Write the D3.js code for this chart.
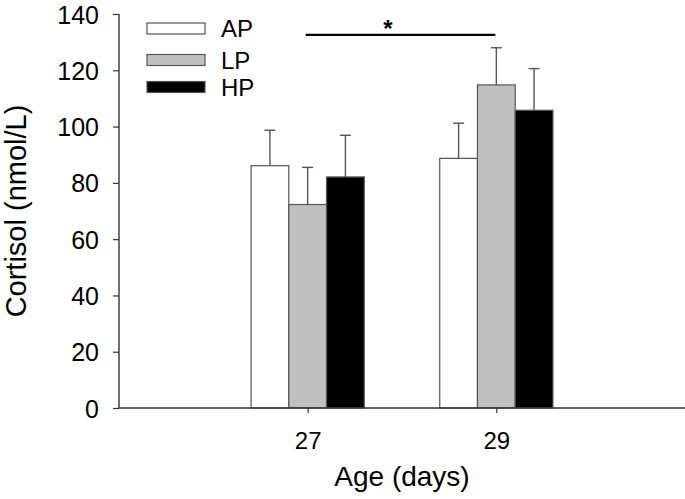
<!DOCTYPE html>
<html>
<head>
<meta charset="utf-8">
<script src="https://cdn.jsdelivr.net/npm/d3@7"></script>
<style>
  body { margin: 0; background: #fff; }
  svg { display: block; font-family: "Liberation Sans", Arial, Helvetica, sans-serif; }
</style>
</head>
<body>
<div id="chart"></div>
<script>
// data
const ages = [27, 29];
const groups = ["AP", "LP", "HP"];
const meanAP = [86.1, 88.7];
const meanLP = [72.3, 114.8];
const meanHP = [82.1, 105.8];
const errAP = [12.6, 12.5];
const errLP = [13.2, 13.2];
const errHP = [14.8, 14.8];
const yTicks = [0, 20, 40, 60, 80, 100, 120, 140];
const sigFrom = 27, sigTo = 29, sigLevel = 132.6, sigLabel = "*";

const width = 685, height = 499;
const margin = {top: 14, right: 0, bottom: 91, left: 119};

const fills = {AP: "#ffffff", LP: "#c0c0c0", HP: "#000000"};
const means = {AP: meanAP, LP: meanLP, HP: meanHP};
const errs = {AP: errAP, LP: errLP, HP: errHP};

const svg = d3.select("#chart").append("svg")
  .attr("width", width)
  .attr("height", height);

const x = d3.scaleLinear().domain([25, 31]).range([margin.left, width - margin.right]);
const y = d3.scaleLinear().domain([0, 140]).range([height - margin.bottom, margin.top]);

const barW = 0.4; // in days
const offset = d3.scaleBand().domain(groups).range([-1.5 * barW, 1.5 * barW]);

const rows = [];
ages.forEach((age, i) => {
  groups.forEach(g => rows.push({age, g, v: means[g][i], e: errs[g][i]}));
});

// error bars (upper only), drawn first so bars sit on top
const eb = svg.append("g").attr("stroke", "#555").attr("stroke-width", 1.4);
rows.forEach(d => {
  const cx = x(d.age + offset(d.g) + barW / 2);
  eb.append("line")
    .attr("x1", cx).attr("x2", cx)
    .attr("y1", y(d.v)).attr("y2", y(d.v + d.e));
  eb.append("line")
    .attr("x1", cx - 5.5).attr("x2", cx + 5.5)
    .attr("y1", y(d.v + d.e)).attr("y2", y(d.v + d.e));
});

// bars
svg.append("g")
  .selectAll("rect")
  .data(rows)
  .enter().append("rect")
    .attr("x", d => x(d.age + offset(d.g)))
    .attr("width", x(barW) - x(0))
    .attr("y", d => y(d.v))
    .attr("height", d => y(0) - y(d.v))
    .attr("fill", d => fills[d.g])
    .attr("stroke", "#555")
    .attr("stroke-width", 1.2);

// axes
const yAxis = svg.append("g")
  .attr("transform", `translate(${margin.left},0)`)
  .call(d3.axisLeft(y).tickValues(yTicks).tickFormat(d3.format("d")).tickSize(6).tickPadding(14));
const xAxis = svg.append("g")
  .attr("transform", `translate(0,${y(0)})`)
  .call(d3.axisBottom(x).tickValues(ages).tickFormat(d3.format("d")).tickSize(5).tickPadding(19));

[yAxis, xAxis].forEach(a => {
  a.attr("font-family", null).attr("font-size", null);
  a.select(".domain").attr("stroke", "#333").attr("stroke-width", 1.4);
  a.selectAll(".tick line").attr("stroke", "#333").attr("stroke-width", 1.2);
  a.selectAll(".tick text").attr("fill", "#000").style("font-size", "25px");
});
yAxis.selectAll(".tick text").attr("dy", "0.36em");
xAxis.selectAll(".tick text").style("font-size", "24px");
yAxis.select(".domain").attr("d", `M0,${y(0)}V${y(140)}`);
xAxis.select(".domain").attr("d", `M${x(25)},0H${x(31)}`);

// axis titles
svg.append("text")
  .attr("x", x(28))
  .attr("y", 486)
  .attr("text-anchor", "middle")
  .style("font-size", "28px")
  .text("Age (days)");

svg.append("text")
  .attr("transform", `translate(26,${y(70)}) rotate(-90)`)
  .attr("text-anchor", "middle")
  .style("font-size", "29px")
  .text("Cortisol (nmol/L)");

// significance bar
svg.append("line")
  .attr("x1", x(sigFrom) - 2).attr("x2", x(sigTo) - 1)
  .attr("y1", y(sigLevel)).attr("y2", y(sigLevel))
  .attr("stroke", "#000").attr("stroke-width", 2.2);
svg.append("text")
  .attr("x", x((sigFrom + sigTo) / 2) - 14)
  .attr("y", y(sigLevel) + 2)
  .attr("text-anchor", "middle")
  .style("font-size", "24px")
  .style("font-weight", "bold")
  .text(sigLabel);

// legend
const legendY = [28.5, 60, 87];
const legend = svg.append("g");
groups.forEach((g, i) => {
  legend.append("rect")
    .attr("x", 147).attr("y", legendY[i] - 5.5)
    .attr("width", 58).attr("height", 11)
    .attr("fill", fills[g])
    .attr("stroke", "#555").attr("stroke-width", 1.2);
  legend.append("text")
    .attr("x", 221).attr("y", legendY[i])
    .attr("dy", "0.36em")
    .style("font-size", "24px")
    .text(g);
});
</script>
</body>
</html>
